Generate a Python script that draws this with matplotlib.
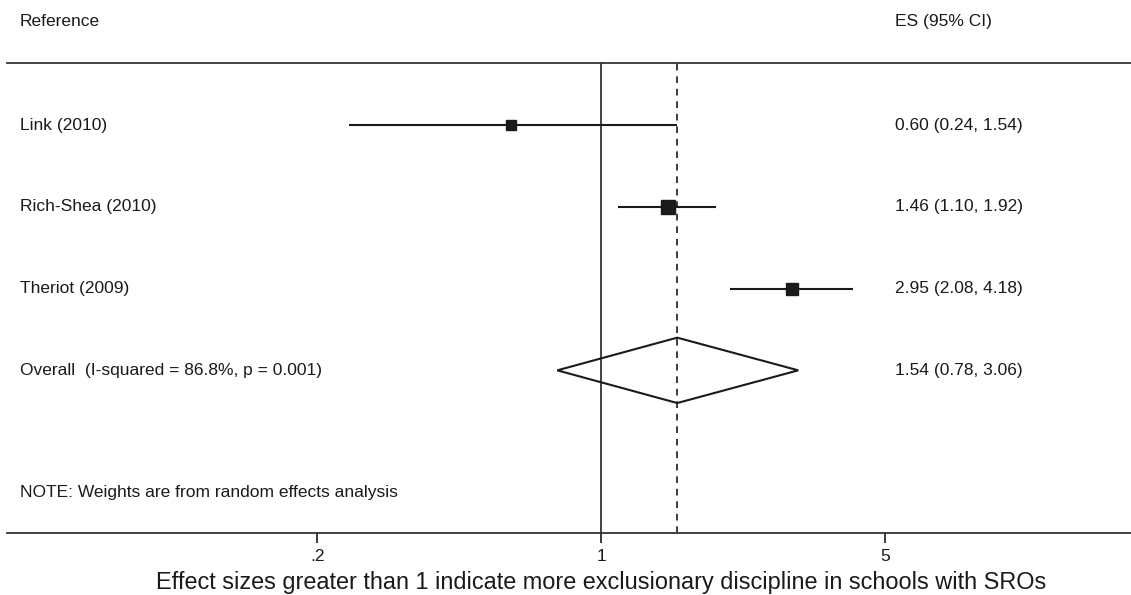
import numpy as np
import matplotlib
matplotlib.use('Agg')
import matplotlib.pyplot as plt
from matplotlib.patches import Polygon
import matplotlib.transforms as mtrans

plt.rcParams['font.family'] = ['Liberation Sans', 'DejaVu Sans']

#%% data
studies = ['Link (2010)', 'Rich-Shea (2010)', 'Theriot (2009)']
es = [0.60, 1.46, 2.95]
ci_lo = [0.24, 1.10, 2.08]
ci_hi = [1.54, 1.92, 4.18]
weights = [22.0, 40.0, 34.0]  # rough box sizes

overall_label = 'Overall  (I-squared = 86.8%, p = 0.001)'
overall_es = 1.54
overall_lo = 0.78
overall_hi = 3.06

xticks = [0.2, 1, 5]
xticklabels = ['.2', '1', '5']
note = 'NOTE: Weights are from random effects analysis'
xlabel = 'Effect sizes greater than 1 indicate more exclusionary discipline in schools with SROs'

#%% figure
W, H = 1131, 595
fig = plt.figure(figsize=(W/100, H/100), dpi=100)
ax = fig.add_axes([7/W, (H-533)/H, 1 - 7/W, (533-63)/H])

col = '#1a1a1a'
ax.set_xscale('log')
ax.set_xlim(0.0344, 20.2)
ax.set_ylim(4.99, -0.76)

rows = np.arange(len(studies))
for i in rows:
    ax.plot([ci_lo[i], ci_hi[i]], [i, i], color=col, lw=1.5, solid_capstyle='butt')
    ax.plot(es[i], i, marker='s', color=col, ms=1.5*np.sqrt(weights[i]), mec=col)

yo = len(studies)
h = 0.40
diamond = Polygon([(overall_lo, yo), (overall_es, yo - h), (overall_hi, yo), (overall_es, yo + h)],
                  closed=True, fill=False, edgecolor=col, lw=1.5)
ax.add_patch(diamond)

ax.axvline(1, color='#333333', lw=1.3, zorder=0)
ax.axvline(overall_es, color=col, lw=1.2, ls=(0, (4, 3.5)), zorder=0)

#%% text columns
tr = mtrans.blended_transform_factory(ax.transAxes, ax.transData)
xl = (20 - 7) / (W - 7)
xr = (895 - 7) / (W - 7)
fs = 12.5
ax.text(xl, -1.27, 'Reference', transform=tr, fontsize=fs, va='center', ha='left', color=col)
ax.text(xr, -1.27, 'ES (95% CI)', transform=tr, fontsize=fs, va='center', ha='left', color=col)
for i in rows:
    ax.text(xl, i, studies[i], transform=tr, fontsize=fs, va='center', ha='left', color=col)
    ax.text(xr, i, '%.2f (%.2f, %.2f)' % (es[i], ci_lo[i], ci_hi[i]), transform=tr,
            fontsize=fs, va='center', ha='left', color=col)
ax.text(xl, yo, overall_label, transform=tr, fontsize=fs, va='center', ha='left', color=col)
ax.text(xr, yo, '%.2f (%.2f, %.2f)' % (overall_es, overall_lo, overall_hi), transform=tr,
        fontsize=fs, va='center', ha='left', color=col)
ax.text(xl, yo + 1.5, note, transform=tr, fontsize=fs, va='center', ha='left', color=col)

#%% axes styling
for s in ['left', 'right']:
    ax.spines[s].set_visible(False)
for s in ['top', 'bottom']:
    ax.spines[s].set_color('#333333')
    ax.spines[s].set_linewidth(1.3)
ax.set_yticks([])
ax.set_xticks(xticks)
ax.set_xticklabels(xticklabels)
ax.xaxis.set_minor_locator(matplotlib.ticker.NullLocator())
ax.tick_params(axis='x', length=7, width=1.2, color=col, labelsize=12.5, pad=4.5, labelcolor=col)
ax.set_xlabel(xlabel, fontsize=16.9, color=col, va='center')
ax.xaxis.set_label_coords((601 - 7) / (W - 7), -(583 - 533) / (533 - 63))

fig.savefig('out.png', dpi=100, facecolor='white')
